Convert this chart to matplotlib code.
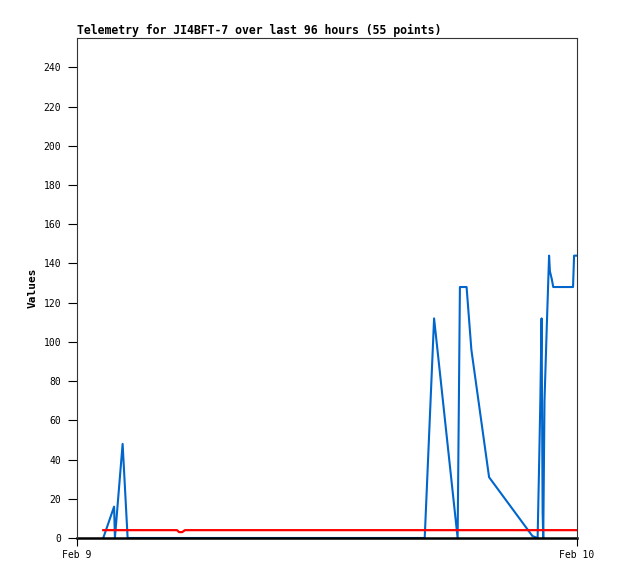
import matplotlib
matplotlib.use("Agg")
import matplotlib.pyplot as plt

# hours after Feb 9 00:00
blue_h = [1.26, 1.78, 1.82, 2.19, 2.43, 16.69, 17.14, 18.27, 18.38, 18.70, 18.93, 19.78,
          21.86, 22.11, 22.19, 22.24, 22.30, 22.35, 22.38, 22.44, 22.55, 22.66,
          22.70, 22.79, 22.86, 23.81, 23.86, 24.0]
blue_v = [0, 16, 0, 48, 0, 0, 112, 0, 128, 128, 96, 31,
          1, 0, 42, 70, 112, 13, 0, 70, 108, 144,
          136, 132, 128, 128, 144, 144]

red_h = [1.26, 4.8, 4.9, 5.05, 5.18, 24.0]
red_v = [4, 4, 3, 3, 4, 4]

black_h = [0, 24]
black_v = [0, 0]

xtick_pos = [0, 24]
xtick_lab = ["Feb 9", "Feb 10"]
yticks = list(range(0, 260, 20))

fig = plt.figure(figsize=(6.18, 5.79), dpi=100)
ax = fig.add_axes([77/618, 1-538/579, 500/618, 500/579])

ax.plot(blue_h, blue_v, color="#0066cc", lw=1.5)
ax.plot(red_h, red_v, color="#ff0000", lw=1.6)
ax.plot(black_h, black_v, color="black", lw=1.8, clip_on=False)

ax.set_xlim(0, 24)
ax.set_ylim(0, 255)
ax.set_xticks(xtick_pos)
ax.set_xticklabels(xtick_lab)
ax.set_yticks(yticks)

mono = "DejaVu Sans Mono"
for lab in ax.get_xticklabels() + ax.get_yticklabels():
    lab.set_family(mono)
    lab.set_fontsize(7)
ax.tick_params(axis="y", length=6.5, width=0.8, pad=5)
ax.tick_params(axis="x", length=5.5, width=0.8, pad=3)

for s in ["left", "top", "right"]:
    ax.spines[s].set_color("#333333")
    ax.spines[s].set_linewidth(0.8)
ax.spines["bottom"].set_visible(False)

ax.set_ylabel("Values", family=mono, fontweight="bold", fontsize=8, labelpad=4)
ax.set_title("Telemetry for JI4BFT-7 over last 96 hours (55 points)",
             family=mono, fontweight="bold", fontsize=8.3, loc="left", pad=3)

fig.savefig("out.png", dpi=100)
